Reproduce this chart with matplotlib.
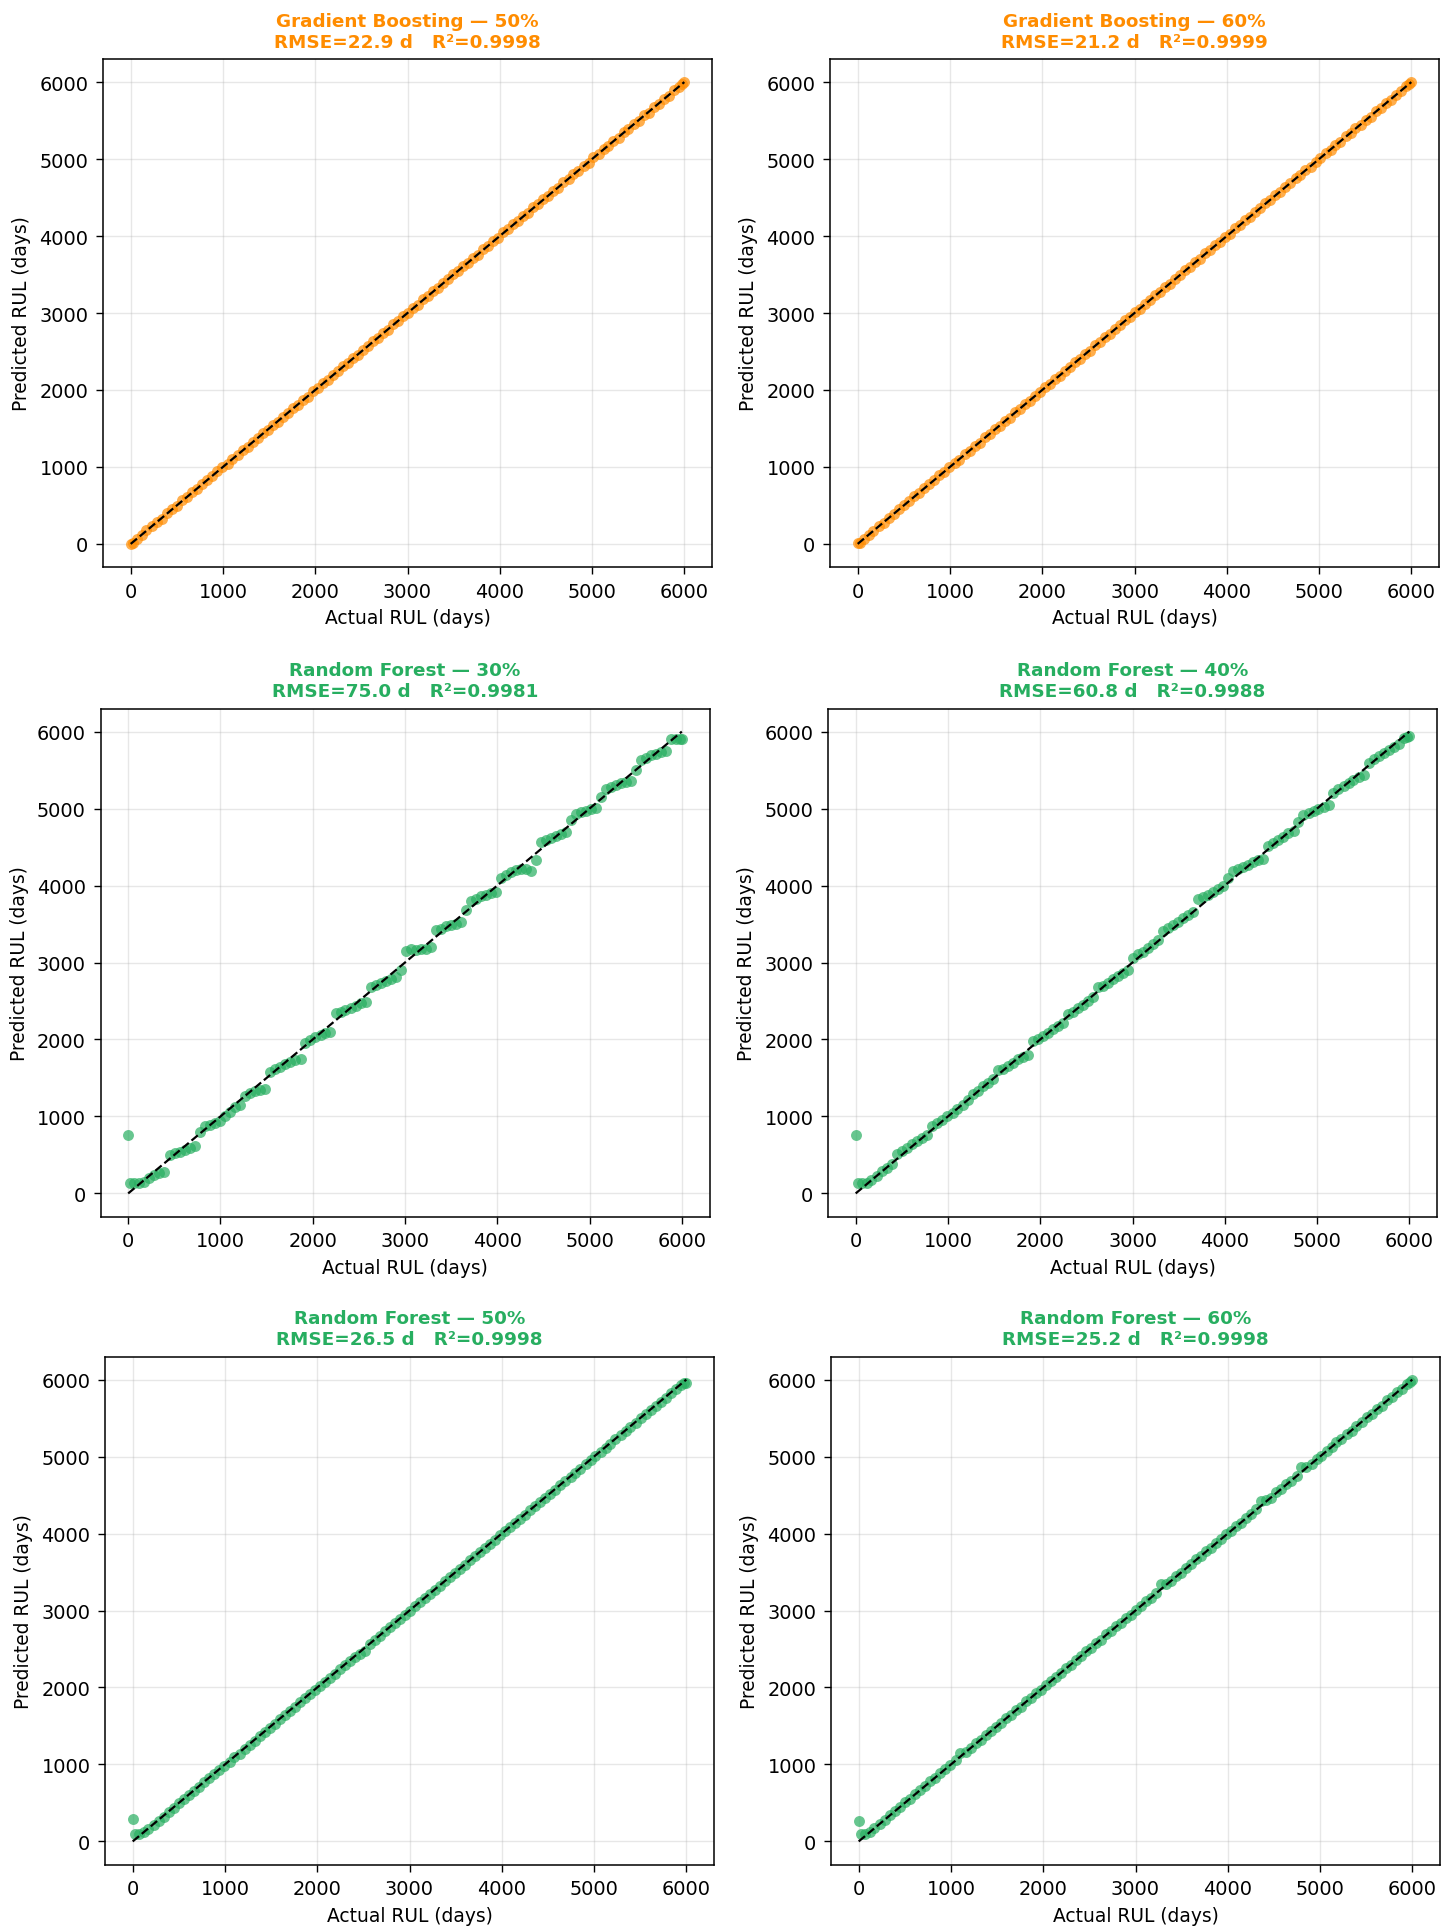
import matplotlib

matplotlib.use("Agg")
import matplotlib.pyplot as plt

# Actual RUL (days) of the test points, shared across the panels
actual_rul = [
    0, 20, 65, 118, 170, 228, 282, 335, 392, 448,
    505, 560, 612, 668, 722, 778, 830, 885, 940, 995,
    1050, 1102, 1158, 1212, 1268, 1322, 1378, 1430, 1485, 1540,
    1595, 1648, 1702, 1758, 1812, 1868, 1920, 1975, 2030, 2085,
    2138, 2192, 2248, 2302, 2355, 2410, 2465, 2518, 2572, 2628,
    2682, 2735, 2790, 2845, 2898, 2952, 3008, 3062, 3115, 3170,
    3225, 3278, 3332, 3388, 3442, 3495, 3550, 3605, 3658, 3712,
    3768, 3822, 3875, 3930, 3985, 4038, 4092, 4148, 4202, 4255,
    4310, 4365, 4418, 4472, 4528, 4582, 4635, 4690, 4745, 4798,
    4852, 4908, 4962, 5015, 5070, 5125, 5178, 5232, 5288, 5342,
    5395, 5450, 5505, 5558, 5612, 5668, 5722, 5775, 5830, 5885,
    5938, 5975, 6000,
]

# Predicted RUL per panel
pred_gb_50 = [
    5, 18, 60, 112, 176, 232, 288, 330, 398, 455,
    498, 566, 608, 675, 716, 772, 836, 880, 946, 1002,
    1044, 1108, 1152, 1218, 1262, 1330, 1372, 1436, 1478, 1546,
    1588, 1655, 1696, 1764, 1805, 1875, 1914, 1982, 2024, 2090,
    2132, 2200, 2242, 2308, 2348, 2418, 2458, 2525, 2566, 2634,
    2676, 2742, 2784, 2852, 2892, 2960, 3002, 3070, 3108, 3178,
    3218, 3286, 3326, 3395, 3436, 3502, 3544, 3612, 3652, 3720,
    3760, 3830, 3868, 3938, 3978, 4046, 4085, 4155, 4195, 4262,
    4302, 4372, 4412, 4480, 4520, 4590, 4628, 4698, 4738, 4806,
    4845, 4915, 4955, 5022, 5062, 5132, 5170, 5240, 5280, 5350,
    5388, 5458, 5498, 5566, 5604, 5675, 5715, 5782, 5822, 5892,
    5930, 5980, 5995,
]
pred_gb_60 = [
    10, 12, 68, 110, 165, 236, 276, 342, 388, 452,
    510, 555, 618, 662, 728, 772, 826, 892, 934, 1000,
    1055, 1096, 1162, 1205, 1274, 1316, 1384, 1424, 1490, 1534,
    1600, 1642, 1708, 1750, 1818, 1862, 1925, 1970, 2034, 2078,
    2144, 2186, 2252, 2296, 2360, 2404, 2470, 2512, 2578, 2622,
    2688, 2730, 2795, 2840, 2904, 2946, 3012, 3056, 3120, 3164,
    3230, 3272, 3338, 3382, 3448, 3490, 3556, 3598, 3664, 3706,
    3774, 3815, 3880, 3924, 3990, 4032, 4098, 4142, 4208, 4250,
    4316, 4358, 4424, 4466, 4534, 4576, 4640, 4684, 4750, 4792,
    4858, 4902, 4968, 5010, 5076, 5118, 5184, 5226, 5294, 5336,
    5400, 5444, 5510, 5552, 5618, 5662, 5728, 5770, 5836, 5878,
    5944, 5970, 5998,
]
pred_rf_30 = [
    758, 134, 134, 138, 150, 200, 235, 260, 280, 500,
    520, 540, 560, 590, 610, 800, 870, 890, 910, 940,
    1010, 1060, 1120, 1150, 1270, 1300, 1330, 1350, 1360, 1580,
    1610, 1640, 1680, 1710, 1730, 1750, 1960, 1990, 2030, 2060,
    2080, 2100, 2340, 2360, 2380, 2410, 2440, 2470, 2490, 2680,
    2710, 2730, 2760, 2790, 2810, 2900, 3150, 3170, 3160, 3170,
    3180, 3200, 3420, 3440, 3470, 3490, 3500, 3520, 3680, 3800,
    3830, 3860, 3880, 3900, 3920, 4100, 4140, 4180, 4200, 4220,
    4210, 4190, 4330, 4560, 4590, 4620, 4650, 4670, 4690, 4850,
    4930, 4950, 4970, 4990, 5010, 5150, 5250, 5280, 5310, 5330,
    5350, 5360, 5500, 5630, 5660, 5690, 5710, 5730, 5750, 5900,
    5900, 5910, 5905,
]
pred_rf_40 = [
    762, 134, 134, 140, 175, 230, 290, 330, 380, 510,
    545, 590, 640, 680, 720, 760, 870, 910, 960, 1000,
    1050, 1100, 1150, 1220, 1290, 1330, 1390, 1430, 1480, 1600,
    1620, 1660, 1700, 1740, 1770, 1800, 1980, 2010, 2050, 2090,
    2140, 2180, 2220, 2330, 2360, 2410, 2450, 2500, 2550, 2680,
    2700, 2740, 2780, 2830, 2870, 2900, 3060, 3110, 3140, 3190,
    3240, 3290, 3410, 3450, 3490, 3530, 3580, 3620, 3650, 3820,
    3850, 3880, 3920, 3950, 3990, 4100, 4190, 4210, 4240, 4270,
    4300, 4330, 4350, 4510, 4550, 4590, 4630, 4680, 4710, 4830,
    4910, 4940, 4970, 4990, 5020, 5040, 5200, 5260, 5290, 5330,
    5370, 5410, 5440, 5590, 5650, 5680, 5720, 5760, 5800, 5840,
    5920, 5935, 5945,
]
pred_rf_50 = [
    285, 100, 102, 122, 162, 218, 268, 322, 385, 440,
    498, 548, 605, 660, 712, 768, 822, 878, 930, 985,
    1030, 1095, 1140, 1205, 1250, 1310, 1365, 1420, 1478, 1530,
    1590, 1640, 1695, 1748, 1805, 1858, 1915, 1965, 2022, 2075,
    2128, 2180, 2238, 2292, 2345, 2400, 2430, 2480, 2565, 2620,
    2672, 2728, 2780, 2835, 2890, 2945, 2998, 3052, 3105, 3160,
    3215, 3270, 3322, 3378, 3432, 3485, 3540, 3595, 3650, 3702,
    3758, 3812, 3865, 3922, 3975, 4028, 4082, 4138, 4192, 4245,
    4300, 4355, 4408, 4462, 4518, 4572, 4625, 4680, 4735, 4788,
    4842, 4898, 4952, 5005, 5060, 5115, 5168, 5222, 5278, 5332,
    5385, 5440, 5495, 5548, 5602, 5658, 5712, 5765, 5820, 5875,
    5925, 5950, 5960,
]
pred_rf_60 = [
    265, 90, 95, 118, 178, 232, 275, 338, 400, 452,
    515, 555, 620, 672, 718, 785, 826, 890, 945, 990,
    1060, 1150, 1165, 1210, 1275, 1318, 1385, 1428, 1492, 1535,
    1600, 1645, 1710, 1752, 1818, 1862, 1925, 1970, 2035, 2080,
    2142, 2186, 2255, 2296, 2360, 2404, 2472, 2512, 2578, 2622,
    2690, 2730, 2796, 2840, 2905, 2948, 3012, 3056, 3120, 3165,
    3232, 3340, 3340, 3385, 3450, 3490, 3558, 3600, 3665, 3706,
    3775, 3815, 3882, 3925, 3992, 4032, 4100, 4140, 4208, 4250,
    4318, 4420, 4430, 4468, 4535, 4576, 4642, 4684, 4752, 4865,
    4870, 4902, 4970, 5010, 5078, 5118, 5186, 5226, 5295, 5336,
    5402, 5444, 5512, 5552, 5620, 5662, 5730, 5770, 5836, 5880,
    5945, 5975, 5990,
]

models = ["Gradient Boosting", "Gradient Boosting", "Random Forest",
          "Random Forest", "Random Forest", "Random Forest"]
splits = ["50%", "60%", "30%", "40%", "50%", "60%"]
rmse_days = [22.9, 21.2, 75.0, 60.8, 26.5, 25.2]
r2_scores = [0.9998, 0.9999, 0.9981, 0.9988, 0.9998, 0.9998]
predictions = [pred_gb_50, pred_gb_60, pred_rf_30, pred_rf_40, pred_rf_50, pred_rf_60]

colors = {"Gradient Boosting": "#FF8C00", "Random Forest": "#27AE60"}

W, H = 1455, 1931
fig = plt.figure(figsize=(W / 100, H / 100), dpi=100)

# axes boxes in pixels: left, top
boxes = [(103, 60), (830, 60), (100.5, 709.5), (828, 709.5), (105, 1357.5), (831, 1357.5)]
ax_w, ax_h = 609, 508

for i, (left, top) in enumerate(boxes):
    ax = fig.add_axes([left / W, 1 - (top + ax_h) / H, ax_w / W, ax_h / H])
    c = colors[models[i]]
    ax.scatter(actual_rul, predictions[i], s=62, color=c, alpha=0.7, linewidths=0, zorder=2)
    ax.plot([0, 6000], [0, 6000], "k--", lw=1.6, zorder=3)
    ax.grid(True, alpha=0.3, lw=1.0)
    ax.set_axisbelow(True)
    ax.tick_params(labelsize=13.9, length=5, width=1.0, pad=5.5)
    for sp in ax.spines.values():
        sp.set_linewidth(1.1)
    ax.set_xlabel("Actual RUL (days)", fontsize=13.4, labelpad=5.5)
    ax.set_ylabel("Predicted RUL (days)", fontsize=13.4, labelpad=6)
    ax.set_title(
        f"{models[i]} \u2014 {splits[i]}\nRMSE={rmse_days[i]:.1f} d   R\u00b2={r2_scores[i]:.4f}",
        fontsize=13.2, fontweight="bold", color=c, pad=9,
    )

fig.savefig("out.png", dpi=100)
